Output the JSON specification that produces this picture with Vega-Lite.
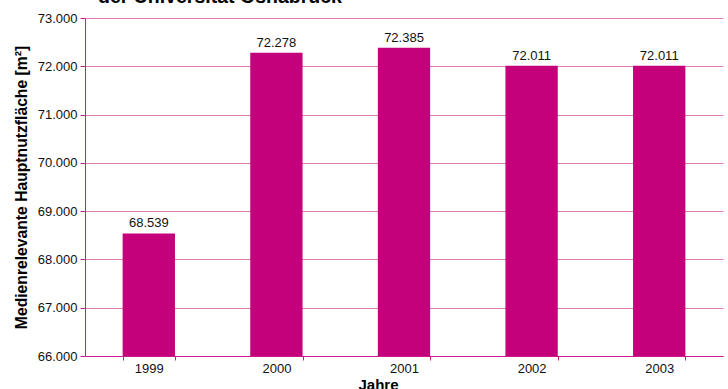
{
  "$schema": "https://vega.github.io/schema/vega-lite/v6.json",
  "autosize": "none",
  "width": 638,
  "height": 338,
  "padding": {"left": 85, "top": 18, "right": 5, "bottom": 33},
  "background": "white",
  "title": {
    "text": "der Universität Osnabrück",
    "anchor": "start",
    "frame": "group",
    "orient": "top",
    "offset": 0,
    "dx": 13,
    "dy": 10,
    "font": "Liberation Sans",
    "fontSize": 19.5,
    "fontWeight": "bold",
    "color": "black",
    "baseline": "alphabetic"
  },
  "data": {
    "values": [
      {"Jahr": "1999", "Wert": 68539},
      {"Jahr": "2000", "Wert": 72278},
      {"Jahr": "2001", "Wert": 72385},
      {"Jahr": "2002", "Wert": 72011},
      {"Jahr": "2003", "Wert": 72011}
    ]
  },
  "config": {
    "locale": {
      "number": {"decimal": ",", "thousands": ".", "grouping": [3], "currency": ["", " €"]}
    },
    "view": {"stroke": null},
    "axis": {
      "labelFont": "Liberation Sans",
      "titleFont": "Liberation Sans",
      "labelFontSize": 13,
      "labelColor": "#111111",
      "titleColor": "black",
      "titleFontSize": 15,
      "titleFontWeight": "bold",
      "domainColor": "#cc1a8c",
      "tickColor": "#cc1a8c",
      "gridColor": "#e27ab8",
      "gridOpacity": 1
    }
  },
  "encoding": {
    "x": {
      "field": "Jahr",
      "type": "nominal",
      "scale": {"paddingInner": 0.59, "paddingOuter": 0.295},
      "axis": {
        "title": "Jahre",
        "labelAngle": 0,
        "tickBand": "extent",
        "tickSize": 4,
        "labelPadding": 2,
        "titleX": 293,
        "titleY": 21,
        "titleBaseline": "top",
        "grid": false,
        "domainWidth": 1
      }
    },
    "y": {
      "field": "Wert",
      "type": "quantitative",
      "scale": {"domain": [66000, 73000], "nice": false, "zero": false},
      "axis": {
        "title": "Medienrelevante Hauptnutzfläche [m²]",
        "titleFontSize": 15.7,
        "values": [66000, 67000, 68000, 69000, 70000, 71000, 72000, 73000],
        "format": ",.0f",
        "tickSize": 5,
        "labelPadding": 3,
        "titlePadding": 8,
        "grid": true
      }
    }
  },
  "layer": [
    {"mark": {"type": "bar", "color": "#c4007a", "clip": true}},
    {
      "mark": {"type": "text", "baseline": "alphabetic", "dy": -6, "font": "Liberation Sans", "fontSize": 13, "color": "#111111"},
      "encoding": {
        "text": {"field": "Wert", "type": "quantitative", "format": ",.0f"}
      }
    }
  ]
}
